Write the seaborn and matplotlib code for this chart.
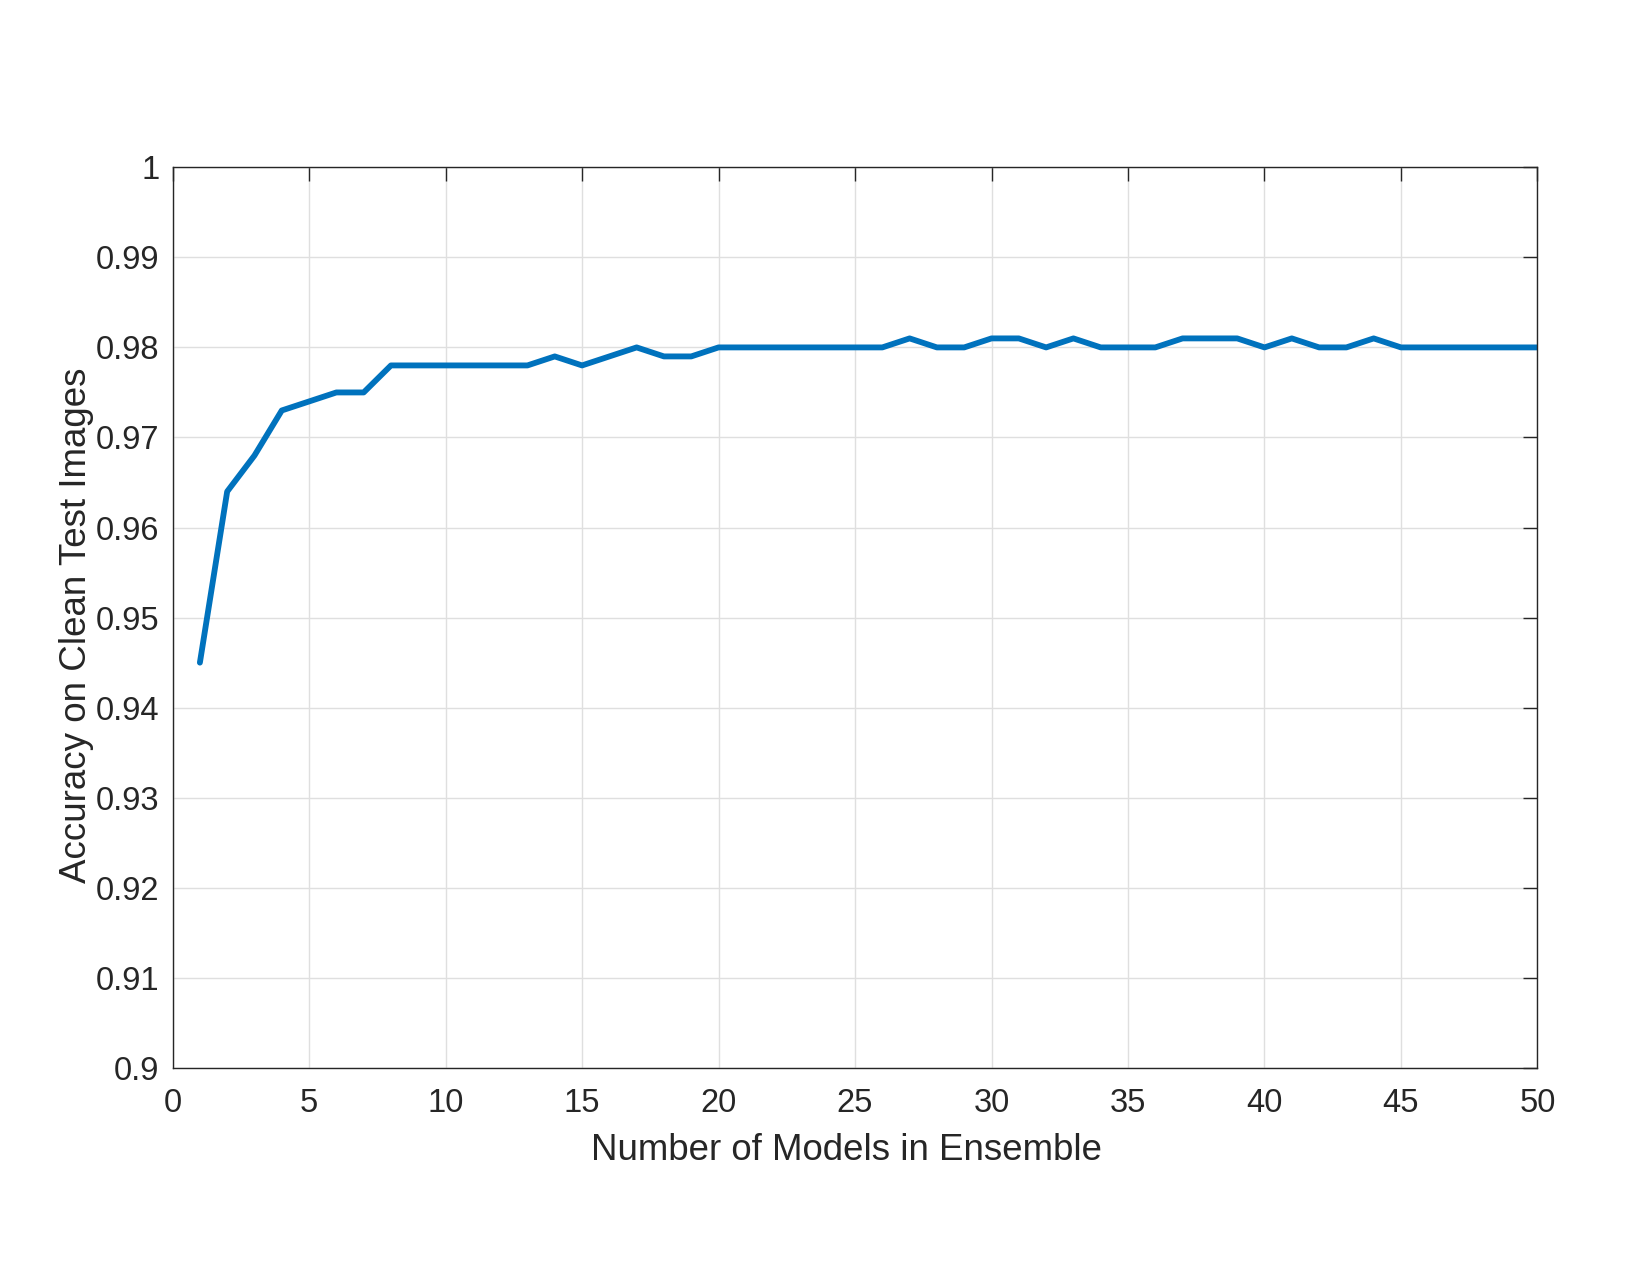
import pandas as pd
import matplotlib
matplotlib.use('Agg')
import matplotlib.pyplot as plt
import seaborn as sns

# Datos
n_models = list(range(1, 51))
accuracy = [0.945, 0.964, 0.968, 0.973, 0.974, 0.975, 0.975, 0.978, 0.978, 0.978,
            0.978, 0.978, 0.978, 0.979, 0.978, 0.979, 0.980, 0.979, 0.979, 0.980,
            0.980, 0.980, 0.980, 0.980, 0.980, 0.980, 0.981, 0.980, 0.980, 0.981,
            0.981, 0.980, 0.981, 0.980, 0.980, 0.980, 0.981, 0.981, 0.981, 0.980,
            0.981, 0.980, 0.980, 0.981, 0.980, 0.980, 0.980, 0.980, 0.980, 0.980]
x_ticks = [0, 5, 10, 15, 20, 25, 30, 35, 40, 45, 50]
y_ticks = [0.9, 0.91, 0.92, 0.93, 0.94, 0.95, 0.96, 0.97, 0.98, 0.99, 1.0]
y_labels = ['0.9', '0.91', '0.92', '0.93', '0.94', '0.95', '0.96', '0.97', '0.98', '0.99', '1']

df = pd.DataFrame({'Modelos': n_models, 'Accuracy': accuracy})

sns.set_style('white')
plt.rcParams['font.family'] = ['Liberation Sans', 'DejaVu Sans']

txt = '#262626'
fig = plt.figure(figsize=(16.5, 12.75), dpi=100)
ax = fig.add_axes([0.1046, 0.1624, 0.8272, 0.7064])

sns.lineplot(data=df, x='Modelos', y='Accuracy', color='#0072BD', linewidth=4.2, ax=ax)

ax.set_xlim(0, 50)
ax.set_ylim(0.9, 1.0)
ax.set_xticks(x_ticks)
ax.set_xticklabels([str(t) for t in x_ticks])
ax.set_yticks(y_ticks)
ax.set_yticklabels(y_labels)

ax.grid(True, color='#dfdfdf', linewidth=1.0)
ax.set_axisbelow(True)
for s in ax.spines.values():
    s.set_color(txt)
    s.set_linewidth(1.0)
    s.set_visible(True)

ax.tick_params(axis='both', direction='in', length=10, width=1.0, color=txt,
               labelsize=23.5, labelcolor=txt, top=True, right=True)
ax.tick_params(axis='x', pad=14.5)
ax.tick_params(axis='y', pad=9.5)

# Etiquetas de ejes centradas donde están en el original
ax.set_xlabel('Number of Models in Ensemble', fontsize=26.4, color=txt, va='center')
ax.set_ylabel('Accuracy on Clean Test Images', fontsize=26.5, color=txt, va='center')
ax.xaxis.set_label_coords(0.4934, -0.0913)
ax.yaxis.set_label_coords(-0.0707, 0.4918)

plt.savefig('out.png', dpi=100)
plt.close()
